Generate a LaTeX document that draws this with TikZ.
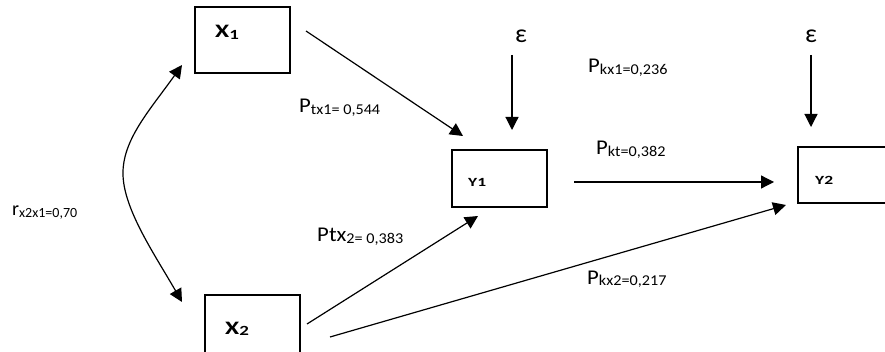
\documentclass[tikz,border=0pt]{standalone}
\usepackage{fontspec}
\setmainfont{Carlito}
\usetikzlibrary{arrows.meta}

\tikzset{
  box/.style={draw, line width=1.2pt, inner sep=0pt},
  arr/.style={line width=1.2pt, -{Triangle[length=13pt,width=13pt]}},
  darr/.style={line width=1.2pt, {Triangle[length=13pt,width=13pt]}-{Triangle[length=13pt,width=13pt]}},
  lbl/.style={anchor=base west, inner sep=0pt},
}
% path coefficient: big letter(s) followed by a smaller tail set on a slightly lower baseline
\newcommand{\coef}[2]{\scalebox{1.08}[1]{{\fontsize{21}{21}\selectfont #1}\raisebox{-1.5pt}{\fontsize{15}{15}\selectfont #2}}}
\newcommand{\corr}[2]{{\fontsize{20}{20}\selectfont #1}\raisebox{-1.5pt}{\fontsize{14}{14}\selectfont #2}}
\newcommand{\varname}[2]{\scalebox{1.35}[1]{{\fontsize{19}{19}\selectfont\bfseries #1}\raisebox{-1.5pt}{\fontsize{14}{14}\selectfont\bfseries #2}}}
\newcommand{\outcome}[1]{\scalebox{1.4}[1]{\fontsize{12.5}{12.5}\selectfont\bfseries #1}}

\begin{document}
\begin{tikzpicture}[x=1pt, y=-1pt]
\useasboundingbox (0,0) rectangle (885,352);

% variable boxes
\draw[box] (195,7) rectangle (290,73);
\draw[box] (205,295) rectangle (300,362);
\draw[box] (452,150) rectangle (547,207);
\draw[box] (798,147) rectangle (890,203);

\node[lbl] (x1) at (215,38) {\varname{X}{1}};
\node[lbl] (x2) at (225,334) {\varname{X}{2}};
\node[lbl] (y1) at (468,187) {\outcome{Y1}};
\node[lbl] (y2) at (815,185) {\outcome{Y2}};

% error terms
\node[lbl] (e1) at (515,43) {\fontsize{26}{26}\selectfont ε};
\node[lbl] (e2) at (805,43) {\fontsize{26}{26}\selectfont ε};

% connector end points
\coordinate (x1out) at (306,31);
\coordinate (y1inA) at (463,136);
\coordinate (x2outA) at (307,324);
\coordinate (y1inB) at (478,216);
\coordinate (x2outB) at (330,337);
\coordinate (y2inB) at (786,205);
\coordinate (y1out) at (574,182);
\coordinate (y2inA) at (774,182);
\coordinate (e1top) at (512,55);
\coordinate (e1tip) at (512,130);
\coordinate (e2top) at (811,55);
\coordinate (e2tip) at (811,127);
\coordinate (rtop) at (182,65);
\coordinate (rbot) at (182,302);

% paths
\draw[arr] (x1out) -- (y1inA);
\draw[arr] (x2outA) -- (y1inB);
\draw[arr] (x2outB) -- (y2inB);
\draw[arr] (y1out) -- (y2inA);
\draw[arr] (e1top) -- (e1tip);
\draw[arr] (e2top) -- (e2tip);
\draw[darr] (rtop) .. controls (150,110) and (122,140) .. (123,175)
                  .. controls (124,210) and (155,255) .. (rbot);

% coefficients
\node[lbl] (ptx1) at (299,113) {\coef{P}{tx1= 0,544}};
\node[lbl] (ptx2) at (317,242) {\coef{Ptx}{2= 0,383}};
\node[lbl] (pkx1) at (588,73) {\coef{P}{kx1=0,236}};
\node[lbl] (pkt) at (596,155) {\coef{P}{kt=0,382}};
\node[lbl] (pkx2) at (587,284) {\coef{P}{kx2=0,217}};
\node[lbl] (rx) at (12,216) {\corr{r}{x2x1=0,70}};
\end{tikzpicture}
\end{document}
